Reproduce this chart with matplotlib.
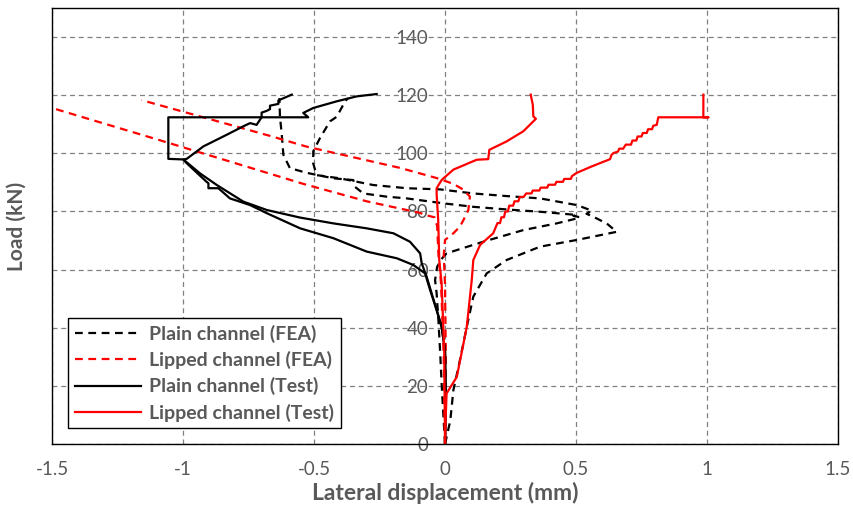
import matplotlib
matplotlib.use("Agg")
import matplotlib.pyplot as plt

# ---------------- data (lateral displacement mm, load kN) ----------------
# Plain channel (FEA) - two curves
plain_fea1_x = [0.0, 0.02, 0.032, 0.057, 0.083, 0.108, 0.159, 0.235, 0.363, 0.503, 0.655,
                0.617, 0.592, 0.566, 0.54, 0.56, 0.503, 0.363, 0.235, 0.108, -0.019, -0.146,
                -0.274, -0.401, -0.49, -0.503, -0.503, -0.477, -0.439, -0.413, -0.382, -0.37]
plain_fea1_y = [0.0, 8.0, 18.6, 28.9, 40.3, 50.7, 58.7, 63.3, 67.9, 70.2, 73.0,
                75.9, 77.0, 78.2, 79.2, 80.3, 82.2, 84.5, 85.3, 86.2, 87.6, 88.0,
                89.1, 91.4, 92.5, 96.5, 100.7, 105.3, 111.0, 112.6, 117.8, 119.0]
plain_fea2_x = [0.0, -0.006, -0.013, -0.019, -0.026, -0.032, -0.038, -0.03, -0.01, 0.006,
                0.146, 0.299, 0.426, 0.503, 0.515, 0.49, 0.503, 0.363, 0.235, 0.108,
                -0.006, -0.146, -0.223, -0.312, -0.344, -0.35, -0.426, -0.528, -0.592,
                -0.617, -0.623, -0.63, -0.632]
plain_fea2_y = [0.0, 9.4, 20.9, 32.3, 43.8, 51.8, 56.4, 61.0, 64.0, 65.6,
                69.6, 73.6, 75.9, 77.6, 78.0, 78.5, 78.8, 79.9, 80.7, 81.6,
                82.8, 84.5, 85.1, 86.2, 88.5, 90.8, 91.4, 93.3, 94.9,
                99.5, 106.4, 112.6, 119.0]

# Lipped channel (FEA) - two curves
lipped_fea1_x = [0.0, 0.003, 0.0, -0.005, 0.0, 0.032, 0.057, 0.07, 0.089, 0.095, 0.07,
                 0.032, -0.032, -0.172, -0.528, -0.668, -1.158]
lipped_fea1_y = [0.0, 30.0, 55.0, 65.0, 70.2, 72.5, 74.8, 77.0, 80.5, 85.1, 87.5,
                 89.5, 91.5, 95.0, 102.3, 106.0, 118.3]
lipped_fea2_x = [0.0, -0.005, -0.015, -0.025, -0.03, -0.04, -0.076, -0.095, -0.299,
                 -0.541, -1.088, -1.5]
lipped_fea2_y = [0.0, 30.0, 55.0, 65.0, 75.0, 78.0, 78.8, 79.5, 83.5,
                 89.5, 104.5, 115.6]

# Plain channel (Test) - two curves
plain_test1_x = [0.0, 0.003, 0.0, -0.013, -0.032, -0.051, -0.07, -0.089, -0.095, -0.134,
                 -0.197, -0.299, -0.426, -0.553, -0.68, -0.77, -0.871, -0.935, -0.999,
                 -1.056, -1.056, -0.522, -0.541, -0.503, -0.413, -0.337, -0.261]
plain_test1_y = [0.0, 15.0, 32.3, 40.3, 46.1, 51.8, 57.5, 62.2, 65.6, 69.6,
                 72.5, 74.2, 75.9, 77.9, 80.5, 83.4, 89.1, 93.1, 97.9,
                 98.1, 112.4, 112.4, 113.9, 115.6, 117.9, 119.6, 120.4]
plain_test2_x = [0.0, 0.003, 0.0, -0.013, -0.032, -0.057, -0.076, -0.121, -0.184, -0.299,
                 -0.426, -0.553, -0.68, -0.744, -0.821, -0.865, -0.903, -0.903, -0.91,
                 -0.986, -0.999, -0.986, -0.922, -0.833, -0.77, -0.744, -0.719, -0.706,
                 -0.7, -0.7, -0.681, -0.668, -0.668, -0.636, -0.636, -0.585]
plain_test2_y = [0.0, 15.0, 32.3, 40.3, 46.1, 53.0, 58.7, 61.6, 63.9, 66.2,
                 70.8, 74.2, 79.4, 82.2, 84.5, 88.0, 88.0, 89.7, 90.2,
                 96.6, 97.9, 98.1, 102.4, 106.4, 109.3, 110.4, 109.8, 111.6,
                 112.4, 114.0, 114.6, 115.2, 116.4, 117.0, 118.2, 120.2]

# Lipped channel (Test) - two curves
lipped_test1_x = [0.0, -0.003, -0.013, -0.022, -0.026, -0.032, -0.032, -0.013, -0.006,
                  0.032, 0.121, 0.165, 0.169, 0.235, 0.299, 0.337, 0.347, 0.337, 0.335,
                  0.327]
lipped_test1_y = [0.0, 32.3, 55.3, 63.3, 77.0, 86.0, 88.0, 90.8, 91.4,
                  94.4, 97.8, 98.0, 101.2, 104.1, 107.6, 111.0, 111.9, 112.7, 116.7,
                  120.2]
lipped_test2_x = [0.0, 0.003, 0.006, 0.045, 0.083, 0.102, 0.108, 0.134, 0.184, 0.2, 0.21,
                  0.215, 0.225, 0.23, 0.24, 0.245, 0.26, 0.265, 0.28, 0.285, 0.3, 0.31,
                  0.33, 0.335, 0.36, 0.365, 0.39, 0.395, 0.42, 0.425, 0.45, 0.455, 0.48,
                  0.485, 0.503, 0.56, 0.63, 0.635, 0.643, 0.66, 0.665, 0.68, 0.69, 0.71,
                  0.715, 0.73, 0.735, 0.75, 0.755, 0.77, 0.775, 0.79, 0.795, 0.808, 0.814,
                  1.005, 0.986, 0.986]
lipped_test2_y = [0.0, 10.0, 17.4, 23.1, 40.3, 56.4, 63.3, 68.5, 72.5, 76.0, 76.0,
                  78.0, 78.0, 80.0, 80.0, 82.0, 82.0, 83.5, 83.5, 85.0, 85.0, 86.2,
                  86.2, 87.2, 87.2, 88.2, 88.2, 89.2, 89.2, 90.2, 90.2, 91.2, 91.2,
                  92.2, 93.3, 95.5, 98.0, 99.4, 100.1, 100.6, 101.6, 101.6, 103.0, 103.0,
                  104.4, 104.4, 105.8, 105.8, 107.0, 107.0, 108.3, 108.3, 109.5, 109.8, 112.4,
                  112.4, 112.4, 120.2]

x_ticks = [-1.5, -1, -0.5, 0, 0.5, 1, 1.5]
x_tick_labels = ["-1.5", "-1", "-0.5", "0", "0.5", "1", "1.5"]
y_ticks = [0, 20, 40, 60, 80, 100, 120, 140]

legend_labels = ["Plain channel (FEA)", "Lipped channel (FEA)",
                 "Plain channel (Test)", "Lipped channel (Test)"]

# ---------------- figure ----------------
FONT = ["Lato", "DejaVu Sans"]
GREY_TXT = "#595959"
plt.rcParams["font.family"] = FONT

fig = plt.figure(figsize=(8.54, 5.16), dpi=100)
ax = fig.add_axes([0.0609, 0.1395, 0.9204, 0.845])
ax.set_xlim(-1.5, 1.5)
ax.set_ylim(0, 150)

# grid
ax.set_xticks(x_ticks)
ax.set_xticklabels(x_tick_labels)
ax.set_yticks(y_ticks)
ax.grid(True, color="#808080", linestyle=(0, (4, 3)), linewidth=0.9)
ax.set_axisbelow(True)
ax.tick_params(axis="x", length=0, labelsize=13.5, labelcolor=GREY_TXT, pad=12)
ax.tick_params(axis="y", length=0, labelleft=False)
for s in ax.spines.values():
    s.set_color("black")
    s.set_linewidth(1.0)

# y axis drawn at x = 0
sec = ax.secondary_yaxis(0.5)
sec.set_yticks(y_ticks)
sec.yaxis.set_ticks_position("left")
sec.spines["left"].set_color("#bfbfbf")
sec.spines["left"].set_linewidth(1.6)
sec.spines["right"].set_visible(False)
sec.tick_params(length=0, labelsize=13.5, labelcolor=GREY_TXT, pad=12,
                labelleft=True, labelright=False)

lw = 1.6
dash = (0, (3.5, 2.5))
ax.plot(plain_fea1_x, plain_fea1_y, color="black", lw=lw, linestyle=dash, label=legend_labels[0])
ax.plot(plain_fea2_x, plain_fea2_y, color="black", lw=lw, linestyle=dash)
ax.plot(lipped_fea1_x, lipped_fea1_y, color="red", lw=lw, linestyle=dash, label=legend_labels[1])
ax.plot(lipped_fea2_x, lipped_fea2_y, color="red", lw=lw, linestyle=dash)
ax.plot(plain_test1_x, plain_test1_y, color="black", lw=lw, label=legend_labels[2])
ax.plot(plain_test2_x, plain_test2_y, color="black", lw=lw)
ax.plot(lipped_test1_x, lipped_test1_y, color="red", lw=lw, label=legend_labels[3])
ax.plot(lipped_test2_x, lipped_test2_y, color="red", lw=lw)

ax.set_xlabel("Lateral displacement (mm)", fontsize=16.5, fontweight="bold",
              color=GREY_TXT, labelpad=3)
ax.set_ylabel("Load (kN)", fontsize=15, fontweight="bold", color=GREY_TXT)
ax.yaxis.set_label_coords(-0.032, 0.5)

leg = ax.legend(loc="upper left", bbox_to_anchor=(0.0204, 0.289), borderaxespad=0,
                frameon=True, fancybox=False, edgecolor="black", framealpha=1,
                handlelength=3.4, borderpad=0.35, labelspacing=0.42, handletextpad=0.4,
                prop={"family": FONT, "weight": "bold", "size": 14})
leg.get_frame().set_linewidth(1.0)
for t in leg.get_texts():
    t.set_color(GREY_TXT)

fig.savefig("out.png", dpi=100)
